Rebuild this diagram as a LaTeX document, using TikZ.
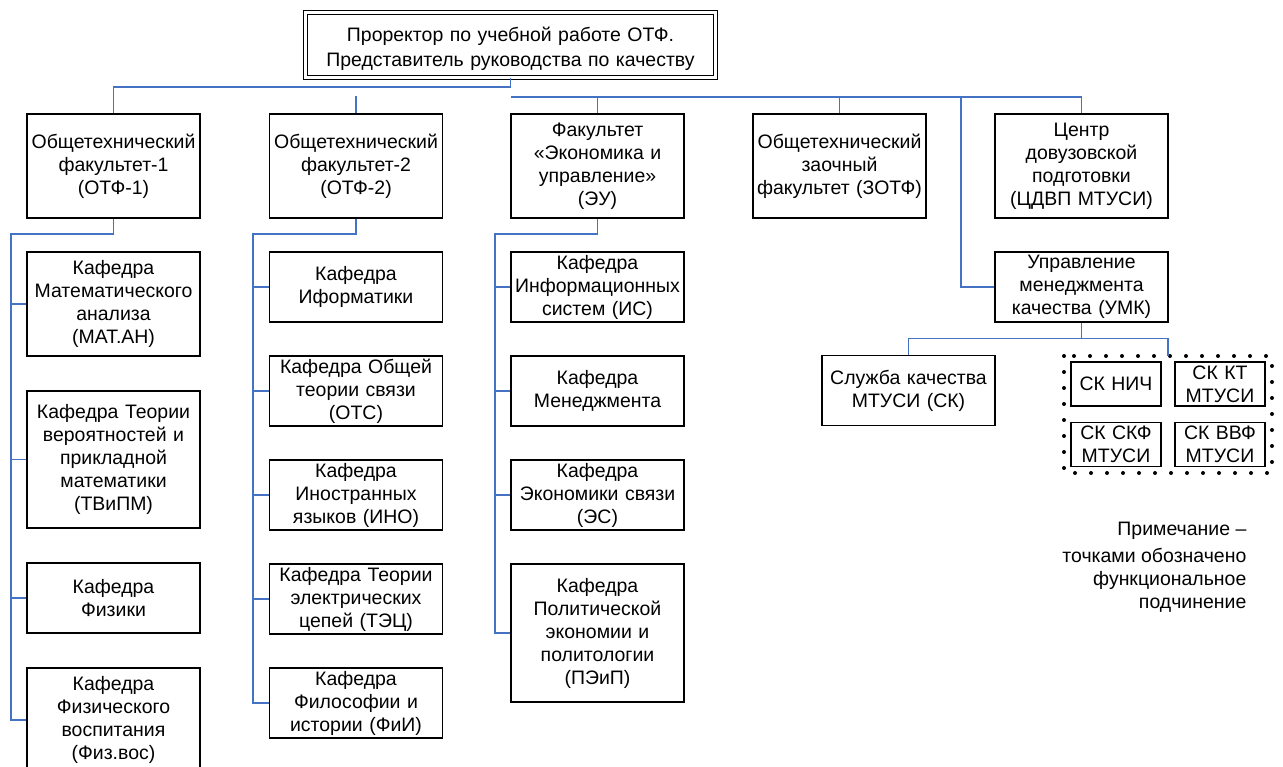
\documentclass[tikz,border=0pt]{standalone}
\usepackage{fontspec}
\setmainfont{Liberation Sans}
\usetikzlibrary{positioning}
\definecolor{linkblue}{RGB}{68,114,196}
\newcommand{\boxfont}{\fontsize{14.6}{17.25}\selectfont}
\tikzset{every picture/.style={x=0.75pt,y=-0.75pt,line width=1pt},
  box/.style={draw,line width=1.1pt,align=center,inner xsep=0pt,inner ysep=0.5pt,text width=129.75pt,minimum height=52.5pt,font=\boxfont},
  small/.style={box,text width=67.5pt,minimum height=33pt,inner ysep=0pt},
  link/.style={draw=linkblue,line width=1pt},
  dots/.style={line width=3pt,line cap=round,dash pattern=on 0pt off 12pt}}

\begin{document}
\begin{tikzpicture}
\useasboundingbox (0,0) rectangle (1283,767);

\node (pr) at (510.5,45) [box,text width=307.6pt,minimum height=48.9pt,double,double distance=2pt,line width=0.8pt,font=\fontsize{14.6}{18.75}\selectfont] {\rule{0pt}{17pt}Проректор по учебной работе ОТФ.\\Представитель руководства по качеству};

\node (f1) at (113.5,166) [box,minimum height=78pt] {Общетехнический\\факультет-1\\(ОТФ-1)};
\node (f2) at (356,166) [box,minimum height=78pt] {Общетехнический\\факультет-2\\(ОТФ-2)};
\node (f3) at (597.5,166) [box,minimum height=78pt] {Факультет\\«Экономика и\\управление»\\(ЭУ)};
\node (f4) at (839.5,166) [box,minimum height=78pt] {Общетехнический\\заочный\\факультет (ЗОТФ)};
\node (c) at (1081.5,166) [box,minimum height=78pt] {Центр\\довузовской\\подготовки\\(ЦДВП МТУСИ)};
\node (u) at (1081.5,287) [box] {Управление\\менеджмента\\качества (УМК)};

\node (k11) [box,minimum height=78pt,below=24.4pt of f1] {Кафедра\\Математического\\анализа\\(МАТ.АН)};
\node (k12) [box,minimum height=102.75pt,below=25.15pt of k11] {Кафедра Теории\\вероятностей и\\прикладной\\математики\\(ТВиПМ)};
\node (k13) [box,below=25.15pt of k12] {Кафедра\\Физики};
\node (k14) [box,minimum height=78pt,below=25.15pt of k13] {Кафедра\\Физического\\воспитания\\(Физ.вос)};

\node (k21) [box,below=24.4pt of f2] {Кафедра\\Иформатики};
\node (k22) [box,below=24.4pt of k21] {Кафедра Общей\\теории связи\\(ОТС)};
\node (k23) [box,below=24.4pt of k22] {Кафедра\\Иностранных\\языков (ИНО)};
\node (k24) [box,below=24.4pt of k23] {Кафедра Теории\\электрических\\цепей (ТЭЦ)};
\node (k25) [box,below=24.4pt of k24] {Кафедра\\Философии и\\истории (ФиИ)};

\node (k31) [box,below=24.4pt of f3] {Кафедра\\Информационных\\систем (ИС)};
\node (k32) [box,below=24.4pt of k31] {Кафедра\\Менеджмента};
\node (k33) [box,below=24.4pt of k32] {Кафедра\\Экономики связи\\(ЭС)};
\node (k34) [box,minimum height=103.5pt,below=24.4pt of k33] {Кафедра\\Политической\\экономии и\\политологии\\(ПЭиП)};

\node (sl) at (908.5,390.5) [box] {Служба качества\\МТУСИ (СК)};
\node (s1) at (1116,384) [small] {СК НИЧ};
\node (s2) at (1220,384) [small] {СК КТ\\МТУСИ};
\node (s3) at (1116,444.5) [small] {СК СКФ\\МТУСИ};
\node (s4) at (1220,444.5) [small] {СК ВВФ\\МТУСИ};
\coordinate (g1) at (1064,356);
\coordinate (g2) at (1272,473);
\draw[dots] (g1) rectangle (g2);

\node (note) at (1251,517) [anchor=north east,align=right,inner sep=3pt,font=\boxfont] {Примечание –\\[3pt]точками обозначено\\функциональное\\подчинение};

\draw[link] (pr.south) -- ++(0,9) -| (f1.north);
\coordinate (t) at (511,97);
\coordinate (t2) at (961,97);
\draw[link] (t) -| (c.north);
\draw[link] (f2.north) -- ++(0,-17);
\foreach \n in {f3,f4} \draw[link] (\n.north) -- (\n.north |- t);
\draw[link] (t2) |- (u.west);

\draw[link] (u.south) -- ++(0,16) coordinate (m);
\coordinate (g) at (1168,356);
\draw[link] (sl.north) |- (m) -| (g);

\coordinate (b1) at (11,234);
\coordinate (b2) at (253,234);
\coordinate (b3) at (495,234);
\draw[link] (f1.south) |- (b1) -- (b1 |- k14.west) -- (k14.west);
\foreach \k in {k11,k12,k13} \draw[link] (b1 |- \k.west) -- (\k.west);
\draw[link] (f2.south) |- (b2) -- (b2 |- k25.west) -- (k25.west);
\foreach \k in {k21,k22,k23,k24} \draw[link] (b2 |- \k.west) -- (\k.west);
\draw[link] (f3.south) |- (b3) -- (b3 |- k34.west) -- (k34.west);
\foreach \k in {k31,k32,k33} \draw[link] (b3 |- \k.west) -- (\k.west);
\end{tikzpicture}
\end{document}
